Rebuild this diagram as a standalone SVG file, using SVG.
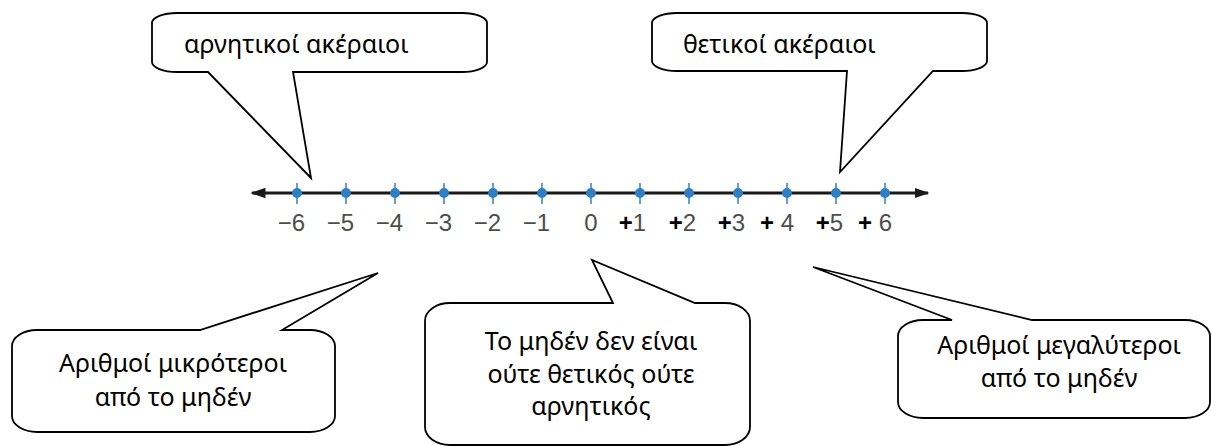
<svg xmlns="http://www.w3.org/2000/svg" width="1211" height="446" viewBox="0 0 1211 446">
  <defs>
    <style>
      .bubble { fill: #ffffff; stroke: #000000; stroke-width: 1.8; stroke-linejoin: miter; }
      .label { font-family: "Noto Sans", "Open Sans", sans-serif; font-size: 25px; fill: #000000; }
      .mid { text-anchor: middle; }
      .axis { stroke: #1a1a1a; stroke-width: 3; }
      .tick { stroke: #3f86c6; stroke-width: 1.6; }
      .dot { fill: #2f7fc4; }
      .num { font-family: "Liberation Sans", Arial, sans-serif; font-size: 24px; fill: #4d4d4d; }
      .plus { fill: #000000; font-weight: bold; }
    </style>
    <marker id="head" viewBox="0 0 10 10" refX="9" refY="5" markerWidth="5" markerHeight="5" orient="auto-start-reverse" markerUnits="strokeWidth">
      <path d="M0,1.5 L10,5 L0,8.5 Z" fill="#1a1a1a"/>
    </marker>
  </defs>

  <!-- number line -->
  <g id="number-line">
    <line class="axis" x1="252" y1="193" x2="928" y2="193" marker-start="url(#head)" marker-end="url(#head)"/>
    <g id="ticks">
      <line class="tick" x1="297" y1="183" x2="297" y2="204"/>
      <line class="tick" x1="346" y1="183" x2="346" y2="204"/>
      <line class="tick" x1="395" y1="183" x2="395" y2="204"/>
      <line class="tick" x1="444" y1="183" x2="444" y2="204"/>
      <line class="tick" x1="493" y1="183" x2="493" y2="204"/>
      <line class="tick" x1="542" y1="183" x2="542" y2="204"/>
      <line class="tick" x1="591" y1="183" x2="591" y2="204"/>
      <line class="tick" x1="640" y1="183" x2="640" y2="204"/>
      <line class="tick" x1="689" y1="183" x2="689" y2="204"/>
      <line class="tick" x1="738" y1="183" x2="738" y2="204"/>
      <line class="tick" x1="787" y1="183" x2="787" y2="204"/>
      <line class="tick" x1="836" y1="183" x2="836" y2="204"/>
      <line class="tick" x1="885" y1="183" x2="885" y2="204"/>
      <circle class="dot" cx="297" cy="193" r="5"/>
      <circle class="dot" cx="346" cy="193" r="5"/>
      <circle class="dot" cx="395" cy="193" r="5"/>
      <circle class="dot" cx="444" cy="193" r="5"/>
      <circle class="dot" cx="493" cy="193" r="5"/>
      <circle class="dot" cx="542" cy="193" r="5"/>
      <circle class="dot" cx="591" cy="193" r="5"/>
      <circle class="dot" cx="640" cy="193" r="5"/>
      <circle class="dot" cx="689" cy="193" r="5"/>
      <circle class="dot" cx="738" cy="193" r="5"/>
      <circle class="dot" cx="787" cy="193" r="5"/>
      <circle class="dot" cx="836" cy="193" r="5"/>
      <circle class="dot" cx="885" cy="193" r="5"/>
    </g>
    <g id="numbers" class="num">
      <text x="305" y="231" text-anchor="end">−6</text>
      <text x="354" y="231" text-anchor="end">−5</text>
      <text x="403" y="231" text-anchor="end">−4</text>
      <text x="452" y="231" text-anchor="end">−3</text>
      <text x="501" y="231" text-anchor="end">−2</text>
      <text x="550" y="231" text-anchor="end">−1</text>
      <text x="591" y="231" text-anchor="middle">0</text>
      <text x="646" y="231" text-anchor="end"><tspan class="plus">+</tspan>1</text>
      <text x="696" y="231" text-anchor="end"><tspan class="plus">+</tspan>2</text>
      <text x="745" y="231" text-anchor="end"><tspan class="plus">+</tspan>3</text>
      <text x="794" y="231" text-anchor="end"><tspan class="plus">+</tspan> 4</text>
      <text x="843" y="231" text-anchor="end"><tspan class="plus">+</tspan>5</text>
      <text x="892" y="231" text-anchor="end"><tspan class="plus">+</tspan> 6</text>
    </g>
  </g>

  <!-- callouts -->
  <g id="negative-integers">
    <path class="bubble" d="M177,13 H462 A25,10 0 0 1 487,23 V62 A25,10 0 0 1 462,72 H293 L311,178 L208,72 H177 A25,10 0 0 1 152,62 V23 A25,10 0 0 1 177,13 Z"/>
    <text class="label" x="184" y="53">αρνητικοί ακέραιοι</text>
  </g>

  <g id="positive-integers">
    <path class="bubble" d="M677,13 H962 A25,10 0 0 1 987,23 V61 A25,10 0 0 1 962,71 H933 L840,172 L847,71 H677 A25,10 0 0 1 652,61 V23 A25,10 0 0 1 677,13 Z"/>
    <text class="label" x="683" y="53">θετικοί ακέραιοι</text>
  </g>

  <g id="less-than-zero">
    <path class="bubble" d="M37,330 H200 L378,273 L282,330 H310 A25,16 0 0 1 335,346 V416 A25,16 0 0 1 310,432 H37 A25,16 0 0 1 12,416 V346 A25,16 0 0 1 37,330 Z"/>
    <text class="label mid" x="173" y="372">Αριθμοί μικρότεροι</text>
    <text class="label mid" x="173" y="406">από το μηδέν</text>
  </g>

  <g id="zero">
    <path class="bubble" d="M450,303 H613 L592,260 L695,303 H725 A25,18 0 0 1 750,321 V427 A25,18 0 0 1 725,445 H450 A25,18 0 0 1 425,427 V321 A25,18 0 0 1 450,303 Z"/>
    <text class="label mid" x="591" y="350">Το μηδέν δεν είναι</text>
    <text class="label mid" x="591" y="383">ούτε θετικός ούτε</text>
    <text class="label mid" x="591" y="415">αρνητικός</text>
  </g>

  <g id="greater-than-zero">
    <path class="bubble" d="M923,320 H952 L813,267 L1032,320 H1185 A25,16 0 0 1 1210,336 V402 A25,16 0 0 1 1185,418 H923 A25,16 0 0 1 898,402 V336 A25,16 0 0 1 923,320 Z"/>
    <text class="label mid" x="1059" y="354">Αριθμοί μεγαλύτεροι</text>
    <text class="label mid" x="1059" y="387">από το μηδέν</text>
  </g>
</svg>
